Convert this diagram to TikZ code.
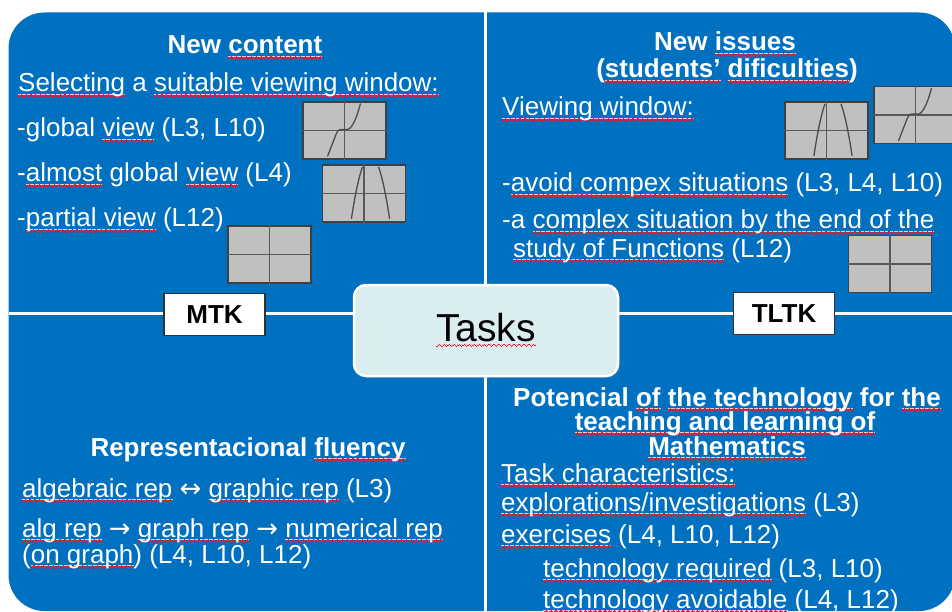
\documentclass[tikz,border=0pt]{standalone}
\usepackage{fontspec}
\setmainfont{Liberation Sans}
\newfontfamily\arrowfont{DejaVu Sans}
\usepackage{tikz}
\usetikzlibrary{positioning,shadows}

\definecolor{tkblue}{RGB}{0,112,192}
\definecolor{tkpale}{RGB}{218,237,240}
\definecolor{scrgray}{RGB}{192,192,192}
\definecolor{spell}{RGB}{232,28,40}
\definecolor{spellpale}{RGB}{236,205,215}

\newcommand\wavy[1]{\setbox0\hbox{#1}%
  \rlap{\lower2.7pt\hbox{\color{spellpale}\rule{\wd0}{0.6pt}}}%
  \rlap{\lower5.6pt\hbox to\wd0{\color{spell}\xleaders\hbox{%
    \rule{1.2pt}{1.3pt}\rule[1pt]{1.2pt}{1.3pt}\rule[2pt]{1.2pt}{1.3pt}\rule[1pt]{1.2pt}{1.3pt}}\hfil}}%
  \box0\relax}

\newcommand\cubic[1]{\draw[curve,shift={(#1.center)}] plot[smooth,tension=0.6]
  coordinates {(-17,26) (-12,13) (-7,1) (-3,-1) (3,-1) (7,-4) (12,-14) (16,-27)};}
\newcommand\parab[1]{\draw[curve,shift={(#1.center)}]
  plot[domain=-12.6:-1.5] (\x,{0.1727*(\x-6.5)^2-37.7})
  plot[domain=14.5:25.6] (\x,{0.1727*(\x-6.5)^2-37.7});}

\begin{document}
\begin{tikzpicture}[x=1pt,y=-1pt,
  txt/.style={text=white,inner sep=0pt,anchor=base west,font=\fontsize{26}{28}\selectfont},
  head/.style={txt,anchor=base,font=\fontsize{26}{28}\selectfont\bfseries},
  tag/.style={draw=black!80,line width=1.5pt,fill=white,minimum width=101pt,minimum height=42pt,
    inner sep=0pt,font=\fontsize{26}{28}\selectfont\bfseries},
  tasks/.style={fill=tkpale,draw=white,line width=2.5pt,rounded corners=12pt,
    minimum width=264pt,minimum height=91pt,font=\fontsize{39}{40}\selectfont,
    drop shadow={shadow xshift=2pt,shadow yshift=-2pt,opacity=0.3}},
  screen/.style={draw=black!75,line width=1.6pt,fill=scrgray,minimum width=83pt,minimum height=57pt,inner sep=0pt},
  axis/.style={black!65,line width=1.2pt},
  curve/.style={black!70,line width=1.3pt},
  sep/.style={white,line width=3pt}
]
  \path[use as bounding box,fill=white] (0,0) rectangle (952,612);
  \fill[tkblue,rounded corners=36pt] (8.5,12.5) rectangle (955,611);

  \coordinate (top) at (485.5,12.5);
  \coordinate (bot) at (485.5,611);
  \coordinate (lft) at (8.5,313);
  \coordinate (rgt) at (955,313);
  \draw[sep] (top) -- (bot);
  \draw[sep] (lft) -- (rgt);

  % viewing windows
  \node[screen] (s1) at (344.5,130.5) {};
  \node[screen] (s2) at (364,193.5) {};
  \node[screen] (s3) at (269.5,254.5) {};
  \node[screen] (s4) at (826.5,130.5) {};
  \node[screen] (s5) at (915.5,115) {};
  \node[screen] (s6) at (890,264) {};
  \foreach \s in {s1,s2,s3,s4,s5,s6}
    \draw[axis] (\s.north) -- (\s.south) (\s.west) -- (\s.east);
  \cubic{s1} \cubic{s5}
  \parab{s2} \parab{s4}

  % new content
  \node[head] (nc) at (245,54) {New \wavy{content}};
  \node[txt] (sel) at (18,92) {\wavy{Selecting} a \wavy{suitable viewing window:}};
  \node[txt] (glob) at (17,137) {-global \wavy{view} (L3, L10)};
  \node[txt] (alm) at (17,182) {-\wavy{almost} global \wavy{view} (L4)};
  \node[txt] (part) at (17,227) {-\wavy{partial view} (L12)};

  % new issues
  \node[head] (ni) at (725,51) {New \wavy{issues}};
  \node[head] (sd) at (727,78) {(\wavy{students’} \wavy{dificulties})};
  \node[txt] (vw) at (502,116) {\wavy{Viewing window:}};
  \node[txt] (av) at (502,192) {-\wavy{avoid compex situations} (L3, L4, L10)};
  \node[txt] (cs) at (502,229) {-a \wavy{complex situation by the end of the}};
  \node[txt] (sf) at (513,257) {\wavy{study of Functions} (L12)};

  % representational fluency
  \node[head] (rf) at (248,456) {Representacional \wavy{fluency}};
  \node[txt] (ag) at (22,497) {\wavy{algebraic rep} {\arrowfont ↔} \wavy{graphic rep} (L3)};
  \node[txt] (ar) at (22,537) {\wavy{alg rep} {\arrowfont →} \wavy{graph rep} {\arrowfont →} \wavy{numerical rep}};
  \node[txt] (og) at (22,563) {(\wavy{on graph}) (L4, L10, L12)};

  % potential of technology
  \node[head] (pt) at (727,406) {Potencial \wavy{of} \wavy{the technology} for \wavy{the}};
  \node[head] (tl) at (725,430) {\wavy{teaching and learning of}};
  \node[head] (ma) at (727,455) {\wavy{Mathematics}};
  \node[txt] (tc) at (501,482) {\wavy{Task characteristics:}};
  \node[txt] (ex) at (501,511) {\wavy{explorations/investigations} (L3)};
  \node[txt] (es) at (501,543) {\wavy{exercises} (L4, L10, L12)};
  \node[txt] (tr) at (543,577) {\wavy{technology required} (L3, L10)};
  \node[txt] (ta) at (543,608) {\wavy{technology avoidable} (L4, L12)};

  \node[tag] (mtk) at (214.5,314.5) {MTK};
  \node[tag] (tltk) at (784,313.5) {TLTK};
  \node[tasks] (task) at (486,330.5) {\wavy{Tasks}};
\end{tikzpicture}
\end{document}
